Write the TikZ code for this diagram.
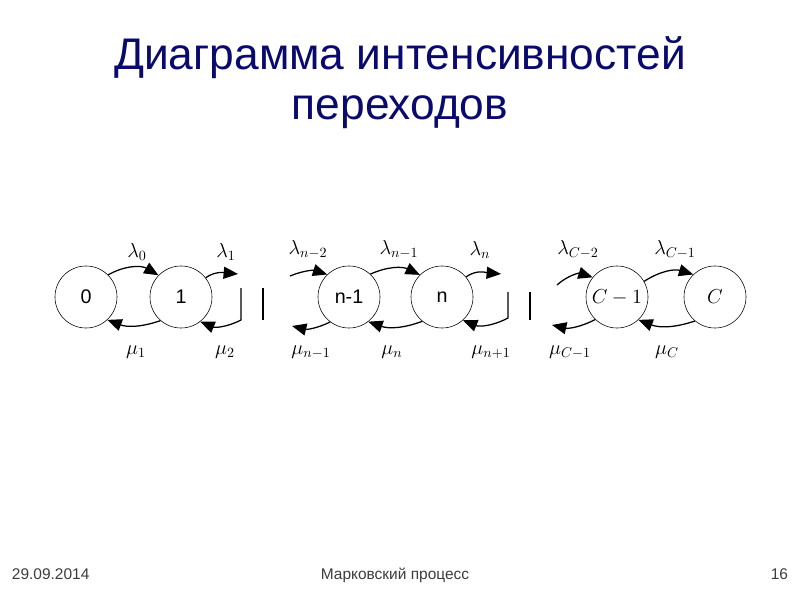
\documentclass[tikz,border=0pt]{standalone}
\usepackage{fontspec}
\setmainfont{Liberation Sans}
\usepackage{amsmath}
\usetikzlibrary{arrows.meta}

\definecolor{azultitulo}{RGB}{10,10,110}
\definecolor{grispie}{RGB}{60,60,60}

\begin{document}
\begin{tikzpicture}[x=0.025cm, y=0.025cm,
    estado/.style={draw, circle, thin, minimum size=1.55cm, inner sep=0pt, font=\fontsize{14}{16}\selectfont},
    flecha/.style={-{Triangle[length=3.6mm, width=3mm]}, line width=0.9pt},
    barra/.style={line width=0.9pt},
    etiqueta/.style={font=\Large, inner sep=0pt},
    titulo/.style={text=azultitulo, font=\fontsize{31.5}{38}\selectfont, anchor=base},
    pie/.style={text=grispie, font=\fontsize{11}{13}\selectfont}]
            \useasboundingbox (0,0) rectangle (800,600);

            % Titulo
            \node[titulo] (titulo1) at (400,530) {Диаграмма интенсивностей};
            \node[titulo] (titulo2) at (400,480) {переходов};

            % Estados
            \node[estado] (s0) at (86,303) {0};
            \node[estado] (s1) at (181,303) {1};
            \node[estado] (sn1) at (349,303) {n-1};
            \node[estado] (sn) at (442,303) {n};
            \node[estado, font=\Large] (sC1) at (617,303) {$C-1$};
            \node[estado, font=\Large] (sC) at (715,303) {$C$};

            % Puntos libres
            \coordinate (a1) at (238,326);
            \coordinate (b1) at (241,280);
            \coordinate (b1top) at (241,312);
            \coordinate (c1) at (263,280);
            \coordinate (c1top) at (263,312);
            \coordinate (a2) at (290,324);
            \coordinate (d2) at (292,274);
            \coordinate (a3) at (501,326);
            \coordinate (b2) at (508,282);
            \coordinate (b2top) at (508,308);
            \coordinate (c2) at (530,280);
            \coordinate (c2top) at (530,308);
            \coordinate (a4) at (557,315);
            \coordinate (d4) at (552,275);

            % Flechas de llegada (lambda)
            \draw[flecha] (s0.45) to[bend left=30] (s1.136);
            \draw[flecha] (s1.38) to[out=35, in=175] (a1);
            \draw[flecha] (a2) to[bend left=20] (sn1.134);
            \draw[flecha] (sn1.47) to[bend left=25] (sn.135);
            \draw[flecha] (sn.40) to[out=35, in=175] (a3);
            \draw[flecha] (a4) to[bend left=30] (sC1.141);
            \draw[flecha] (sC1.30) to[bend left=25] (sC.134);

            % Flechas de servicio (mu)
            \draw[flecha] (s1.-131) to[bend left=20] (s0.-47);
            \draw[flecha] (b1top) -- (b1) to[bend left=25] (s1.-52);
            \draw[flecha] (sn1.-127) to[bend left=20] (d2);
            \draw[flecha] (sn.-129) to[bend left=20] (sn1.-52);
            \draw[flecha] (b2top) -- (b2) to[bend left=25] (sn.-48);
            \draw[flecha] (sC1.-134) to[bend left=20] (d4);
            \draw[flecha] (sC.-130) to[bend left=20] (sC1.-47);

            % Barras
            \draw[barra] (c1top) -- (c1);
            \draw[barra] (c2top) -- (c2);

            % Etiquetas
            \node[etiqueta] (l0) at (137,348) {$\lambda_0$};
            \node[etiqueta] (l1) at (226,348) {$\lambda_1$};
            \node[etiqueta] (ln2) at (308,350) {$\lambda_{n-2}$};
            \node[etiqueta] (ln1) at (399,350) {$\lambda_{n-1}$};
            \node[etiqueta] (ln) at (480,350) {$\lambda_n$};
            \node[etiqueta] (lC2) at (578,350) {$\lambda_{C-2}$};
            \node[etiqueta] (lC1) at (675,350) {$\lambda_{C-1}$};
            \node[etiqueta] (m1) at (136,248) {$\mu_1$};
            \node[etiqueta] (m2) at (225,248) {$\mu_2$};
            \node[etiqueta] (mn1) at (311,248) {$\mu_{n-1}$};
            \node[etiqueta] (mn) at (392,248) {$\mu_n$};
            \node[etiqueta] (mn2) at (491,248) {$\mu_{n+1}$};
            \node[etiqueta] (mC1) at (570,248) {$\mu_{C-1}$};
            \node[etiqueta] (mC) at (667,248) {$\mu_C$};

            % Pie
            \node[pie, anchor=base west] (fecha) at (7,21) {29.09.2014};
            \node[pie, anchor=base] (tema) at (395,21) {Марковский процесс};
            \node[pie, anchor=base east] (pagina) at (793,21) {16};
\end{tikzpicture}
\end{document}
